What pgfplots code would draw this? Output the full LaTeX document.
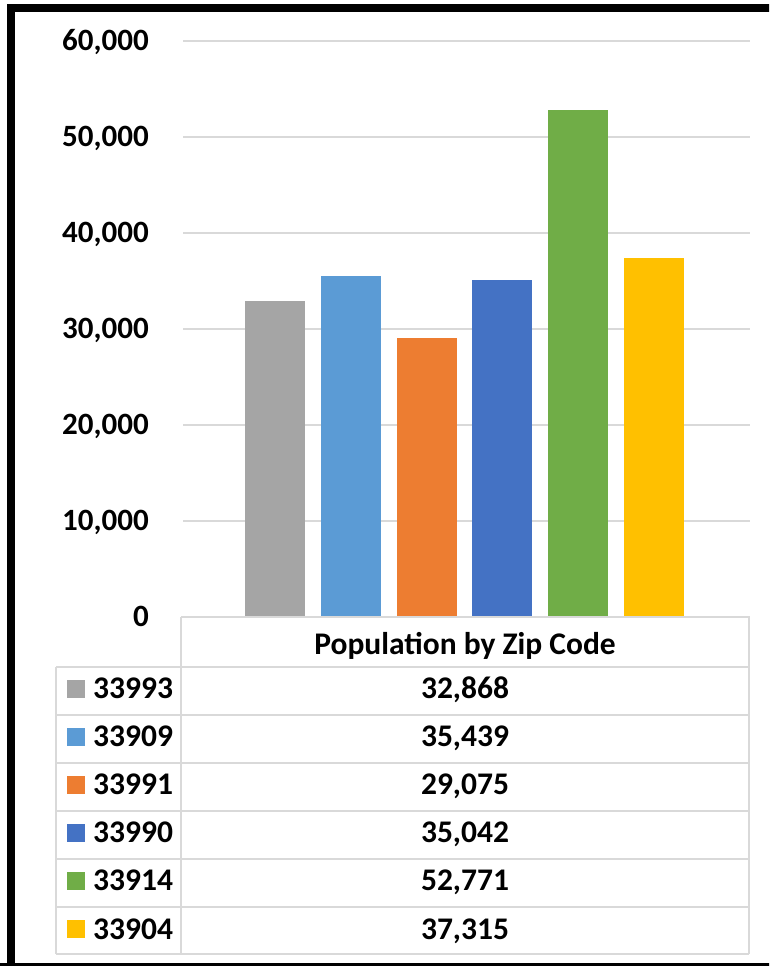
\documentclass[border=0pt]{standalone}
\usepackage{pgfplots}
\pgfplotsset{compat=1.18}
\usepackage{fontspec}
\setmainfont{Carlito}
\definecolor{cgray}{HTML}{A5A5A5}
\definecolor{clblue}{HTML}{5B9BD5}
\definecolor{corange}{HTML}{ED7D31}
\definecolor{cdblue}{HTML}{4472C4}
\definecolor{cgreen}{HTML}{70AD47}
\definecolor{cyellow}{HTML}{FFC000}
\definecolor{grid}{HTML}{D9D9D9}
\begin{document}
\begin{tikzpicture}[x=1pt,y=1pt,font=\fontsize{31.5}{36}\selectfont\bfseries]
\path[use as bounding box] (0,0) rectangle (769,966);
\clip (0,0) rectangle (769,966);
\fill[white] (0,0) rectangle (769,966);
\begin{axis}[
  at={(183pt,349.3pt)}, anchor=south west,
  scale only axis, width=567pt, height=576pt,
  xmin=-0.993, xmax=1.007, ymin=0, ymax=60000,
  ybar=15.8pt, bar width=60pt,
  xtick=\empty, ytick={0,10000,...,60000},
  axis line style={draw=none}, tick style={draw=none},
  ymajorgrids, major grid style={draw=grid, line width=2pt},
  scaled y ticks=false,
  /pgf/number format/.cd, 1000 sep={,}, fixed, assume math mode=true,
  /pgfplots/.cd,
  yticklabel style={anchor=base east, inner sep=0pt, xshift=-34pt, yshift=-10pt, font=\fontsize{31}{36}\selectfont\bfseries},
  clip=false,
]
\addplot[fill=cgray, draw=none] coordinates {(0,32868)};
\addplot[fill=clblue, draw=none] coordinates {(0,35439)};
\addplot[fill=corange, draw=none] coordinates {(0,29075)};
\addplot[fill=cdblue, draw=none] coordinates {(0,35042)};
\addplot[fill=cgreen, draw=none] coordinates {(0,52771)};
\addplot[fill=cyellow, draw=none] coordinates {(0,37315)};
\end{axis}
% data table
\begin{scope}[line width=2pt, draw=grid]
\draw (181,349) -- (749,349);
\foreach \y in {666.7,714.7,762.7,810.7,858.7,906.7,954.3} {\draw (56,966-\y) -- (749,966-\y);}
\draw (181,349) -- (181,966-954.3);
\draw (749,349) -- (749,966-954.3);
\draw (56,966-666.7) -- (56,966-954.3);
\end{scope}
\node[anchor=base, inner sep=0pt] at (465,966-655) {Population by Zip Code};
\foreach \c/\z/\v/\b in {cgray/33993/32{,}868/699, clblue/33909/35{,}439/747, corange/33991/29{,}075/795, cdblue/33990/35{,}042/843, cgreen/33914/52{,}771/891, cyellow/33904/37{,}315/939} {
  \fill[\c] (67,966-\b+0.5) rectangle (85,966-\b+18.5);
  \node[anchor=base west, inner sep=0pt] at (93,966-\b) {\z};
  \node[anchor=base, inner sep=0pt] at (465,966-\b) {\v};
}
% frame
\draw[line width=8pt] (11,-20) -- (11,958) -- (800,958);
\draw[line width=8pt] (0,-1) -- (800,-1);
\end{tikzpicture}
\end{document}
